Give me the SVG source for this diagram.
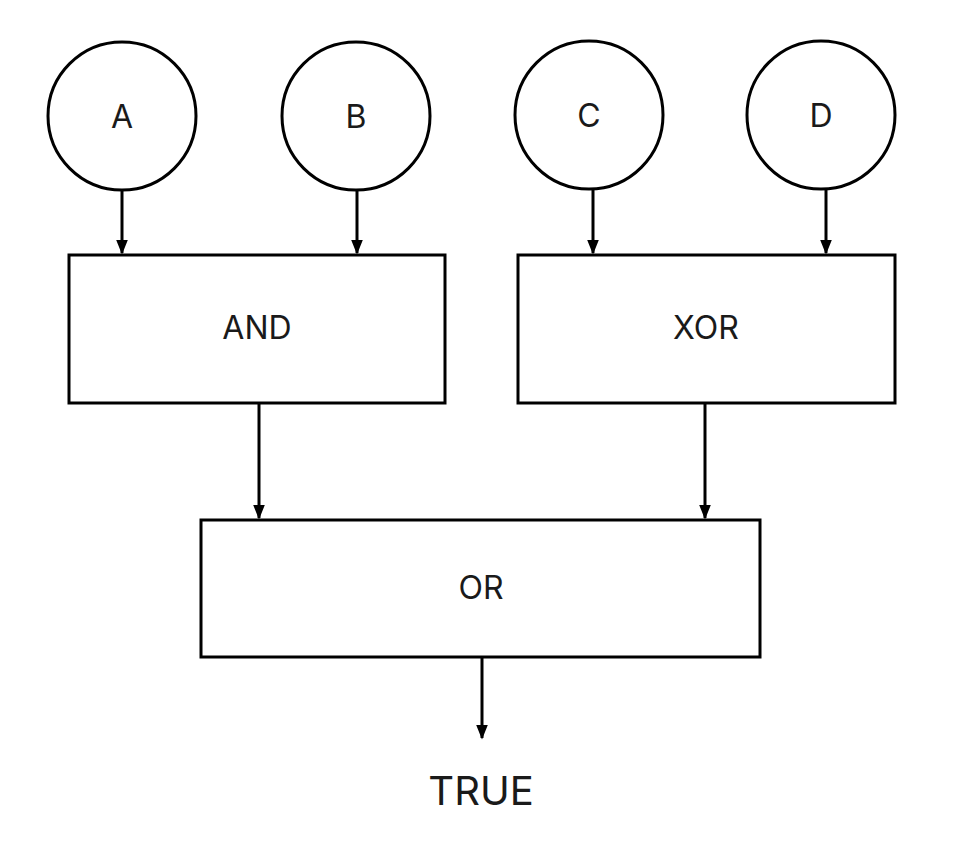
<svg xmlns="http://www.w3.org/2000/svg" width="959" height="846" viewBox="0 0 959 846">
<style>
.n{fill:#fff;stroke:#000;stroke-width:3}
.t{font-family:"Inter","Liberation Sans",sans-serif;font-size:32px;text-anchor:middle;dominant-baseline:central;fill:#1a1a1a}
.c{stroke:#000;stroke-width:3;fill:none;marker-end:url(#a)}
</style>
<defs><marker id="a" viewBox="0 0 10 10" refX="9" refY="5" markerWidth="5" markerHeight="5" orient="auto" markerUnits="strokeWidth"><path d="M0,1L10,5L0,9z" fill="#000"/></marker></defs>
<rect width="959" height="846" fill="#fff"/>
<g id="A"><circle class="n" cx="122" cy="116" r="74"/><text class="t" x="122" y="116">A</text></g>
<g id="B"><circle class="n" cx="356" cy="116" r="74"/><text class="t" x="356" y="116">B</text></g>
<g id="C"><circle class="n" cx="589" cy="115" r="74"/><text class="t" x="589" y="115">C</text></g>
<g id="D"><circle class="n" cx="821" cy="115" r="74"/><text class="t" x="821" y="115">D</text></g>
<g id="AND"><rect class="n" x="69" y="255" width="376" height="148"/><text class="t" x="257" y="327">AND</text></g>
<g id="XOR"><rect class="n" x="518" y="255" width="377" height="148"/><text class="t" x="706" y="327">XOR</text></g>
<g id="OR"><rect class="n" x="201" y="520" width="559" height="137"/><text class="t" x="481" y="587">OR</text></g>
<g id="TRUE"><text class="t" x="481" y="790" style="font-size:40px">TRUE</text></g>
<g id="connectors">
<path class="c" d="M122,190V253"/>
<path class="c" d="M357,190V253"/>
<path class="c" d="M593,189V253"/>
<path class="c" d="M826,189V253"/>
<path class="c" d="M259,403V518"/>
<path class="c" d="M705,403V518"/>
<path class="c" d="M482,657V738"/>
</g>
</svg>
